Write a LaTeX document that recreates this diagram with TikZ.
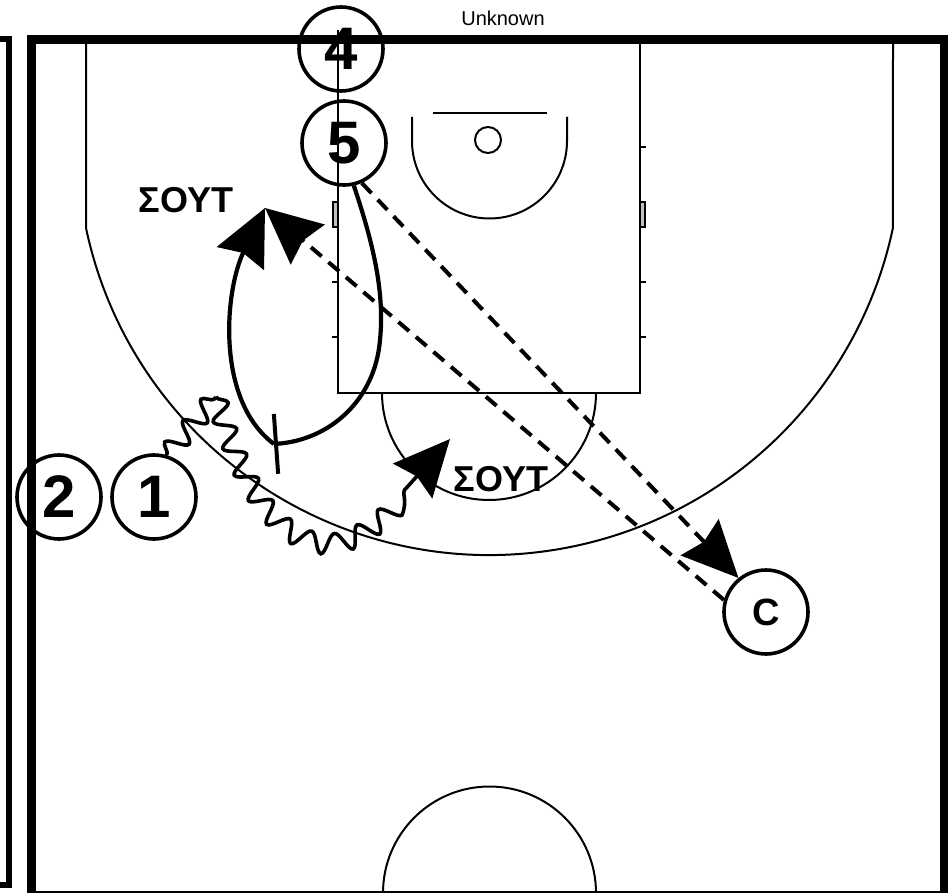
\documentclass[tikz,border=0pt]{standalone}
\usepackage{fontspec}
\setmainfont{Liberation Sans}
\usetikzlibrary{arrows.meta,decorations.pathmorphing}
\tikzset{
 court/.style={line width=1pt},
 player/.style={circle,draw,line width=1.8pt,minimum size=42pt,inner sep=0pt,font=\fontsize{30}{30}\selectfont\bfseries},
 coach/.style={player,font=\fontsize{19}{19}\selectfont\bfseries},
 pass/.style={->,line width=2pt,dash pattern=on 7pt off 4.5pt},
 cut/.style={line width=2.1pt},
 wiggle/.style={line width=1.8pt,decorate,decoration={snake,amplitude=5pt,segment length=14pt}},
 dribble/.style={wiggle,->,decoration={post length=30pt}},
 shotlabel/.style={font=\fontsize{18}{18}\selectfont\bfseries}
}

\begin{document}
\begin{tikzpicture}[x=0.5pt,y=0.5pt,>={Stealth[length=28pt,width=26pt,inset=3pt]}]
\useasboundingbox (0,0) rectangle (948,-893);
\clip (0,0) rectangle (948,-893);
\node[font=\fontsize{10}{10}\selectfont] (title) at (503,-18) {Unknown};
\draw[line width=3pt] (-10,-39) -- (9,-39) -- (9,-885) -- (-10,-885);
\draw[line width=4.5pt] (31,-40) rectangle (944,-895);
\draw[court] (86,-40) -- (86,-228) arc[start angle=191.95,end angle=348.05,radius=412.4] -- (893,-40);
\draw[court] (338,-30) -- (338,-393) -- (640,-393) -- (640,-40);
\draw[court] (382,-393) arc[start angle=180,end angle=360,radius=107];
\draw[court] (412,-117) -- (412,-141) arc[start angle=180,end angle=360,radius=77.5] -- (567,-117);
\draw[line width=1.3pt] (433,-113) -- (547,-113);
\draw[court] (488,-140) circle[radius=13];
\foreach \y in {282,337} {
 \draw[court] (338,-\y) -- (332,-\y);
}
\foreach \y in {147,282,337} {
 \draw[court] (640,-\y) -- (646,-\y);
}
\draw[court,fill=gray!50] (333,-202) rectangle (338,-227);
\draw[court,fill=gray!50] (640,-202) rectangle (645,-227);
\draw[court] (383,-893) arc[start angle=180,end angle=0,radius=106.5];

\node[player] (p4) at (341,-49) {4};
\node[player] (p5) at (344,-143) {5};
\node[player] (p2) at (59,-497) {2};
\node[player] (p1) at (154,-497) {1};
\node[coach] (pc) at (766,-612) {C};
\coordinate (shot) at (265,-208);
\coordinate (shot2) at (450,-439);
\coordinate (scr) at (274,-444);
\coordinate (turn) at (216,-397);
\node[shotlabel] (lab1) at (186,-200) {ΣΟΥΤ};
\node[shotlabel] (lab2) at (501,-479) {ΣΟΥΤ};

\draw[wiggle] (p1.73) -- (turn);
\draw[dribble] (turn) .. controls (235,-460) and (265,-530) .. (320,-537)
 .. controls (370,-543) and (420,-470) .. (shot2);
\draw[cut,-{Bar[width=30pt,line width=2pt]}] (p5.-77) .. controls (372,-240) and (385,-290) .. (380,-340)
 .. controls (375,-400) and (330,-440) .. (scr);
\draw[cut,->] (scr) .. controls (215,-400) and (225,-290) .. (shot);
\draw[pass] (p5.-66) -- (pc.129);
\draw[pass] (pc.164) -- (shot);
\end{tikzpicture}
\end{document}
